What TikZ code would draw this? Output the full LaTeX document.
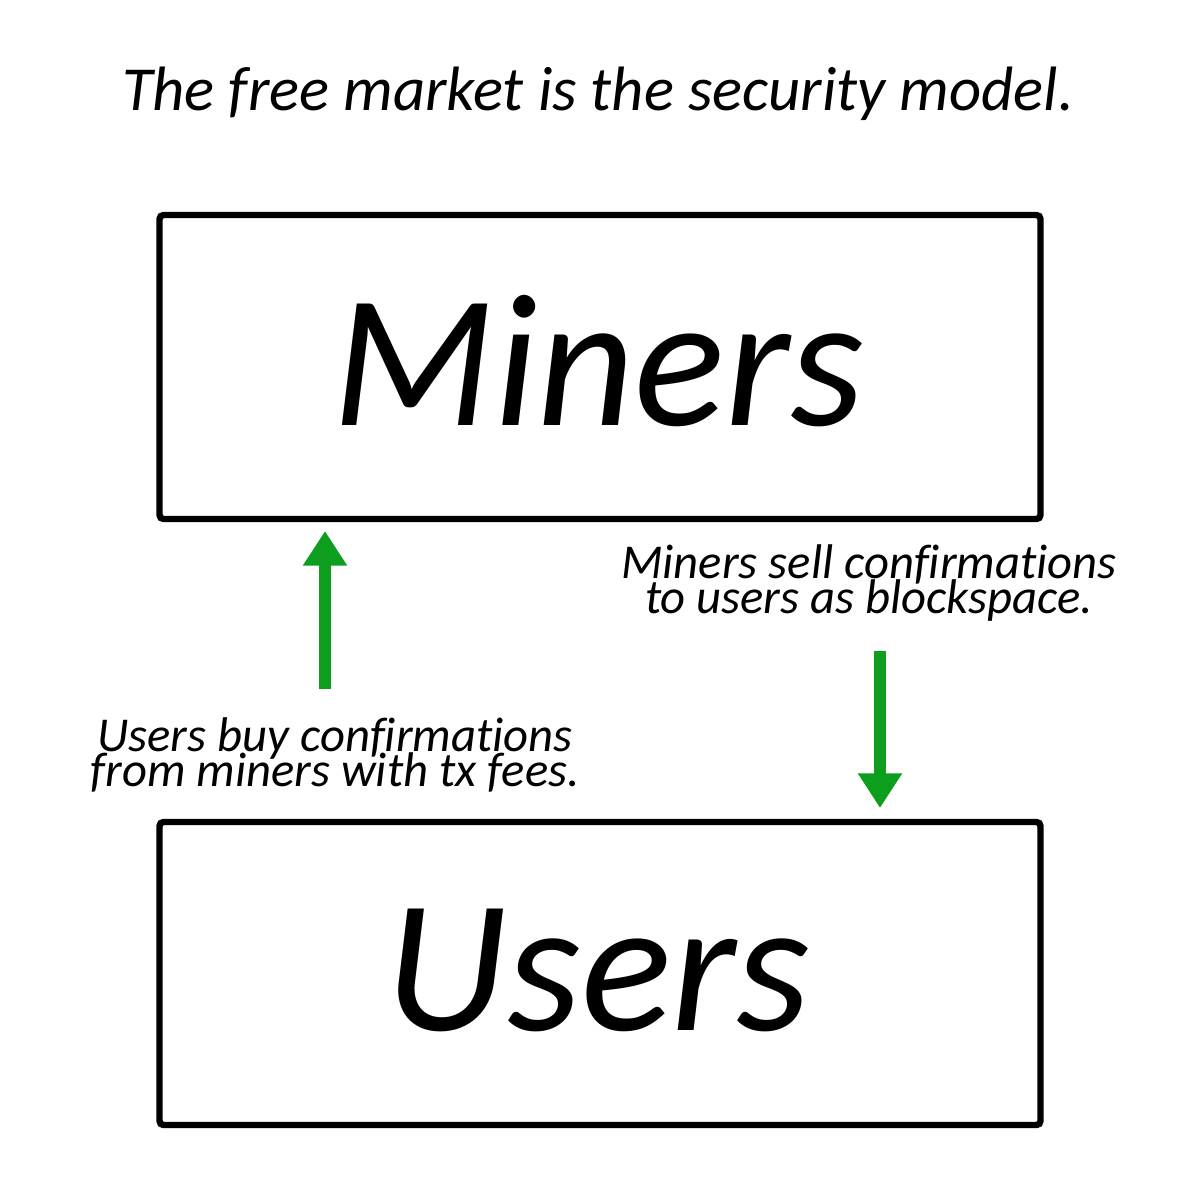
\documentclass[tikz,border=0pt]{standalone}
\usepackage{fontspec}
\setmainfont[Ligatures={NoCommon}]{Carlito}
\usetikzlibrary{arrows.meta}
\definecolor{arrowgreen}{RGB}{12,158,28}
\newcommand\mytightlines{\lineskiplimit=-30pt\relax\lineskip=0pt\relax}
\begin{document}
\begin{tikzpicture}[x=0.75pt,y=-0.75pt,
  box/.style={draw=black,line width=4.8pt,rounded corners=3pt},
  bigtext/.style={font=\fontsize{142}{150}\selectfont\itshape,inner sep=0pt},
  labeltext/.style={font={\fontsize{36.5}{26.25}\selectfont\itshape\mytightlines},align=center,inner sep=0pt},
  flow/.style={draw=arrowgreen,line width=9pt,-{Triangle[width=31.5pt,length=26pt]},arrowgreen}]
\useasboundingbox[fill=white] (0,0) rectangle (1200,1200);
\node[font=\fontsize{47}{50}\selectfont\itshape,inner sep=0pt,anchor=base] (title) at (598,110) {The free market is the security model.};
\draw[box] (159.5,215) rectangle (1040.5,519);
\node[bigtext,anchor=base] (miners) at (598,425) {Miners};
\draw[box] (159.5,822) rectangle (1040.5,1125);
\node[bigtext,anchor=base] (users) at (598,1030) {Users};
\coordinate (upstart) at (325,689);
\coordinate (upend) at (325,531);
\coordinate (downstart) at (880,651);
\coordinate (downend) at (880,808);
\draw[flow] (upstart) -- (upend);
\draw[flow] (downstart) -- (downend);
\node[labeltext,anchor=base] (sell) at (869,613) {Miners sell confirmations\\to users as blockspace.};
\node[labeltext,anchor=base] (buy) at (335,786) {Users buy confirmations\\from miners with tx fees.};
\end{tikzpicture}
\end{document}
